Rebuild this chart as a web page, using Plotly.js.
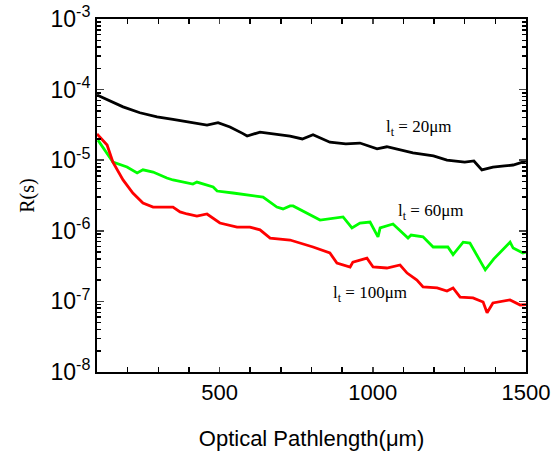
<!DOCTYPE html>
<html><head><meta charset="utf-8">
<script src="https://cdn.plot.ly/plotly-3.0.1.min.js"></script>
<style>html,body{margin:0;padding:0;background:#fff}#c{width:551px;height:461px}</style>
</head><body><div id="c"></div>
<script>
const blackX = [100,185,240,296,348,404,459,495,534,575,590,632,665,730,770,805,860,912,958,1014,1046,1088,1131,1198,1242,1300,1330,1356,1392,1430,1458,1500];
const blackY = [8.4e-5,5.7e-5,4.7e-5,4.1e-5,3.8e-5,3.5e-5,3.15e-5,3.4e-5,2.95e-5,2.4e-5,2.2e-5,2.5e-5,2.4e-5,2.2e-5,2.0e-5,2.3e-5,1.8e-5,1.7e-5,1.75e-5,1.45e-5,1.55e-5,1.4e-5,1.27e-5,1.15e-5,1.0e-5,9.4e-6,9.75e-6,7.3e-6,8.0e-6,8.3e-6,8.55e-6,9.75e-6];
const greenX = [103,133,152,198,231,250,283,328,348,413,426,479,492,544,599,642,687,707,730,740,828,903,932,958,991,1017,1024,1066,1115,1125,1164,1197,1245,1262,1295,1317,1367,1395,1448,1458,1490,1500];
const greenY = [1.93e-5,1.27e-5,9.4e-6,8.0e-6,6.6e-6,7.3e-6,6.8e-6,5.6e-6,5.25e-6,4.6e-6,4.9e-6,4.17e-6,3.66e-6,3.43e-6,3.2e-6,3.0e-6,2.17e-6,2.04e-6,2.25e-6,2.25e-6,1.42e-6,1.57e-6,1.1e-6,1.29e-6,1.33e-6,8.2e-7,1.1e-6,1.25e-6,7.9e-7,8.7e-7,8.2e-7,5.9e-7,5.9e-7,4.6e-7,6.9e-7,6.7e-7,2.8e-7,4.0e-7,6.9e-7,5.7e-7,4.85e-7,5.0e-7];
const redX = [100,133,152,185,217,250,283,348,371,394,426,459,501,557,599,632,665,730,805,860,883,926,935,981,1001,1046,1089,1112,1144,1164,1210,1242,1262,1285,1327,1360,1373,1392,1448,1481,1500];
const redY = [2.35e-5,1.64e-5,9.4e-6,5.25e-6,3.43e-6,2.48e-6,2.17e-6,2.17e-6,1.85e-6,1.73e-6,1.62e-6,1.73e-6,1.29e-6,1.13e-6,1.13e-6,1.03e-6,7.9e-7,7.4e-7,5.9e-7,4.85e-7,3.5e-7,3.07e-7,3.6e-7,4.1e-7,3.07e-7,2.97e-7,3.28e-7,2.52e-7,2.01e-7,1.6e-7,1.55e-7,1.4e-7,1.55e-7,1.15e-7,1.12e-7,9.8e-8,6.9e-8,9.5e-8,1.05e-7,8.9e-8,9.0e-8];
const yTickVals = [1e-8,1e-7,1e-6,1e-5,1e-4,1e-3];
const yTickText = ['10<sup>-8</sup>','10<sup>-7</sup>','10<sup>-6</sup>','10<sup>-5</sup>','10<sup>-4</sup>','10<sup>-3</sup>'];
const xTickVals = [500,1000,1500];
const labels = ['l<sub>t</sub> = 20\u03bcm','l<sub>t</sub> = 60\u03bcm','l<sub>t</sub> = 100\u03bcm'];

const yMinor = [];
for (let e=-8; e<-3; e++) for (let d=2; d<10; d++) yMinor.push(d*Math.pow(10,e));

const traces = [
  {x:blackX, y:blackY, mode:'lines', line:{color:'#000000', width:2.8}},
  {x:greenX, y:greenY, mode:'lines', line:{color:'#00ff00', width:2.8}},
  {x:redX, y:redY, mode:'lines', line:{color:'#ff0000', width:2.8}}
];
const serif = 'Liberation Serif, Times New Roman, serif';
const sans = 'Liberation Sans, Arial, sans-serif';
const layout = {
  width:551, height:461,
  margin:{l:97, r:25, t:19, b:89},
  showlegend:false,
  paper_bgcolor:'#fff', plot_bgcolor:'#fff',
  xaxis:{range:[100,1500], tickmode:'array', tickvals:xTickVals, ticks:'inside', ticklen:5, tickwidth:1.5,
    showline:true, linecolor:'#000', linewidth:2, mirror:'allticks', showgrid:false, zeroline:false,
    ticklabeloverflow:'allow',
    tickfont:{family:sans, size:22, color:'#000'},
    minor:{dtick:100, tick0:0, ticks:'inside', ticklen:5, tickwidth:1.5, tickcolor:'#000', showgrid:false},
    title:{text:'Optical Pathlength(\u03bcm)', font:{family:sans, size:22, color:'#000'}, standoff:26}},
  yaxis:{type:'log', range:[-8,-3], tickmode:'array', tickvals:yTickVals, ticktext:yTickText, ticks:'inside', ticklen:7, tickwidth:1.5,
    showline:true, linecolor:'#000', linewidth:2, mirror:'allticks', showgrid:false, zeroline:false,
    tickfont:{family:sans, size:23, color:'#000'},
    minor:{tickmode:'array', tickvals:yMinor, ticks:'inside', ticklen:4, tickwidth:1.5, tickcolor:'#000', showgrid:false},
    title:{text:'R(s)', font:{family:serif, size:20, color:'#000'}, standoff:10}},
  annotations:[
    {x:1148, y:Math.log10(2.86e-5), xref:'x', yref:'y', text:labels[0], showarrow:false, font:{family:serif, size:17, color:'#000'}},
    {x:1187, y:Math.log10(1.85e-6), xref:'x', yref:'y', text:labels[1], showarrow:false, font:{family:serif, size:17, color:'#000'}},
    {x:991, y:Math.log10(1.27e-7), xref:'x', yref:'y', text:labels[2], showarrow:false, font:{family:serif, size:17, color:'#000'}}
  ]
};
Plotly.newPlot('c', traces, layout, {displayModeBar:false, staticPlot:true});
</script></body></html>
